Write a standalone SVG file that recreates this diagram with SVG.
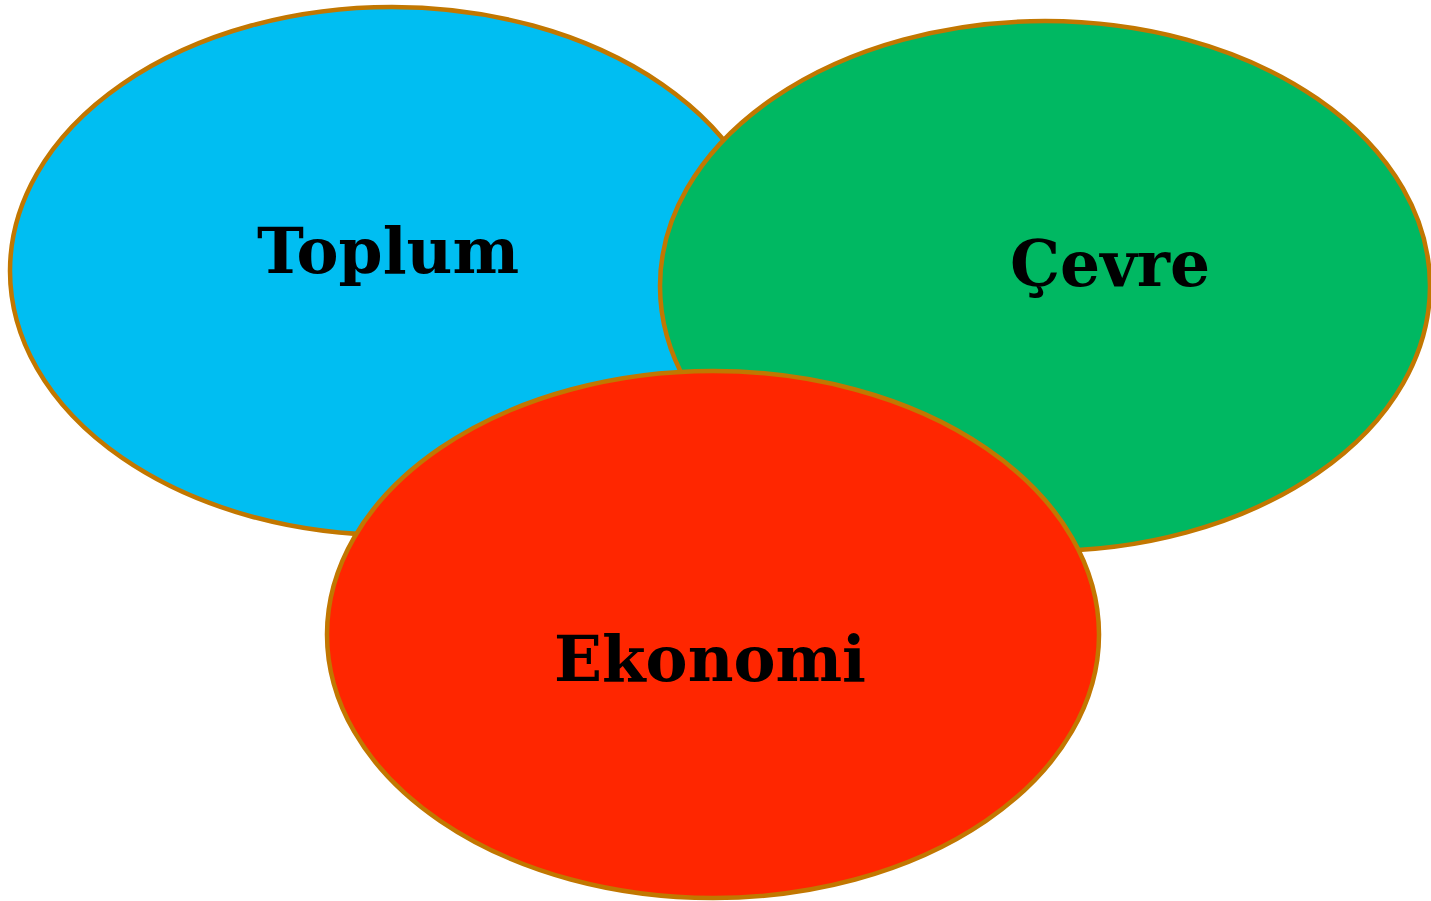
<svg xmlns="http://www.w3.org/2000/svg" width="1431" height="901" viewBox="0 0 1431 901">
<style>
.e{stroke:#C27700;stroke-width:4.5}
.t{font-family:"DejaVu Serif","Liberation Serif",serif;font-weight:bold;font-size:63px;fill:#000;text-anchor:middle}
</style>
<rect width="1431" height="901" fill="#fff"/>
<g id="toplum"><ellipse class="e" cx="392" cy="271" rx="382" ry="264" fill="#00BEF2"/><text class="t" x="388" y="273">Toplum</text></g>
<g id="cevre"><ellipse class="e" cx="1045" cy="286" rx="385" ry="265" fill="#00B862"/><text class="t" x="1110" y="286">Çevre</text></g>
<g id="ekonomi"><ellipse class="e" cx="713" cy="634.5" rx="386" ry="263.5" fill="#FF2600"/><text class="t" x="710" y="681">Ekonomi</text></g>
<g id="connectors"/>
</svg>
